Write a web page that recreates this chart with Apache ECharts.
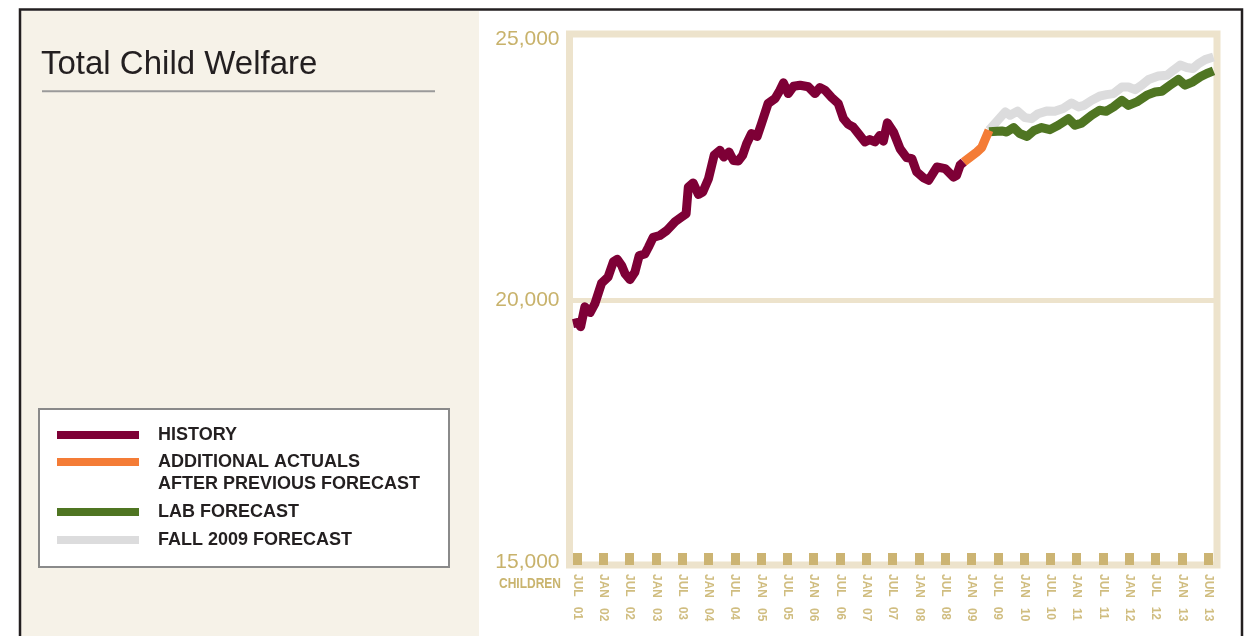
<!DOCTYPE html>
<html>
<head>
<meta charset="utf-8">
<script src="https://cdn.jsdelivr.net/npm/echarts@6/dist/echarts.min.js"></script>
<style>
html,body{margin:0;padding:0;background:#ffffff;}
#chart{width:1255px;height:636px;}
</style>
</head>
<body>
<div id="chart"></div>
<script>
// ---- data (x = months since JUL 01) ----
const histMonths = [-0.9,0.2,0.85,1.8,3.0,4.1,5.6,7.1,8.3,9.2,10.2,11.0,12.1,13.2,14.2,15.5,16.3,17.4,18.9,20.5,22.4,23.9,24.9,25.4,26.5,27.7,28.7,30.0,31.3,32.6,33.5,34.7,35.7,36.8,37.8,38.7,39.8,41.1,42.1,43.6,45.2,46.3,47.1,48.2,49.4,50.9,52.8,54.3,55.4,56.6,58.1,59.6,60.8,61.9,63.0,64.2,65.7,66.8,68.0,69.1,69.9,70.8,72.2,73.7,75.2,76.4,77.5,79.0,80.2,82.1,84.0,85.9,86.6,87.4,88.2];
const histValues = [19560,19580,19500,19880,19770,19940,20330,20450,20740,20790,20670,20510,20400,20540,20860,20890,21020,21210,21245,21340,21510,21600,21660,22170,22250,22030,22075,22330,22780,22875,22745,22840,22680,22670,22780,23000,23195,23140,23385,23770,23865,24025,24165,23960,24100,24120,24090,23960,24075,24025,23885,23770,23480,23370,23320,23195,23035,23080,23035,23160,23050,23400,23225,22905,22735,22715,22460,22350,22300,22555,22525,22360,22395,22590,22650];
const addlMonths = [88.2,91.2,92.3,94.0];
const addlValues = [22650,22840,22925,23260];
const labMonths = [94.0,96.9,98.0,99.6,101.0,102.7,104.3,106.0,107.9,109.8,112.1,113.6,115.1,117.4,119.2,120.7,122.4,124.3,125.8,127.7,130.0,131.9,133.4,135.3,137.2,138.7,140.5,142.2,143.7,145.2];
const labValues = [23230,23245,23225,23310,23195,23140,23255,23310,23270,23355,23480,23355,23395,23545,23640,23620,23705,23830,23735,23800,23930,23990,24005,24120,24230,24120,24185,24280,24345,24395];
const fallMonths = [94.0,97.7,98.8,100.5,102.2,103.7,105.2,107.1,109.0,110.9,112.8,114.4,115.7,117.4,119.2,120.8,122.4,124.3,125.8,127.3,128.8,130.4,132.6,134.6,136.1,137.6,139.1,140.5,141.8,143.3,145.2];
const fallValues = [23260,23610,23545,23625,23500,23480,23575,23625,23620,23675,23780,23705,23735,23830,23910,23940,23960,24085,24085,24035,24120,24230,24295,24310,24410,24505,24460,24440,24535,24610,24660];
const xTickMonths = [0,6,12,18,24,30,36,42,48,54,60,66,72,78,84,90,96,102,108,114,120,126,132,138,144];
const xTickLabels = ['JUL 01','JAN 02','JUL 02','JAN 03','JUL 03','JAN 04','JUL 04','JAN 05','JUL 05','JAN 06','JUL 06','JAN 07','JUL 07','JAN 08','JUL 08','JAN 09','JUL 09','JAN 10','JUL 10','JAN 11','JUL 11','JAN 12','JUL 12','JAN 13','JUN 13'];
const yTickValues = [15000,20000,25000];
const yTickLabels = ['15,000','20,000','25,000'];
const gridLineValue = 20000;

const NAME_HIST = 'HISTORY';
const NAME_ADDL = 'ADDITIONAL ACTUALS AFTER PREVIOUS FORECAST';
const NAME_LAB = 'LAB FORECAST';
const NAME_FALL = 'FALL 2009 FORECAST';

const FONT = '"Liberation Sans", Arial, Helvetica, sans-serif';
const pairs = (xs, ys) => xs.map((x, i) => [x, ys[i]]);

const chart = echarts.init(document.getElementById('chart'), null, {renderer: 'canvas'});

const legendText = {
  fontFamily: FONT, fontSize: 18, fontWeight: 'bold', color: '#231f20',
  lineHeight: 18, padding: [0, 0, 0, 14]
};

function lineSeries(name, xs, ys, color, z) {
  return {
    name: name, type: 'line', data: pairs(xs, ys), color: color,
    showSymbol: false, symbol: 'none', z: z, silent: true,
    lineStyle: {color: color, width: 9, join: 'round', cap: 'butt'}
  };
}

const fall = lineSeries(NAME_FALL, fallMonths, fallValues, '#dcdcdd', 3);
fall.markLine = {
  silent: true, symbol: 'none', z: 1,
  label: {show: false},
  lineStyle: {color: '#ede3cc', width: 5, type: 'solid'},
  data: [{yAxis: gridLineValue}]
};

const option = {
  animation: false,
  backgroundColor: '#ffffff',
  grid: {
    left: 569.5, right: 38, top: 34, bottom: 71,
    show: true, borderColor: '#ede3cc', borderWidth: 7, backgroundColor: '#ffffff'
  },
  xAxis: {
    type: 'value', min: -1.7, max: 146, z: 3,
    axisLine: {show: false},
    splitLine: {show: false},
    axisTick: {show: true, inside: true, length: 12, customValues: xTickMonths,
      lineStyle: {color: '#ccb473', width: 9}},
    axisLabel: {
      customValues: xTickMonths, rotate: -90, margin: 9,
      fontFamily: FONT, fontSize: 12, fontWeight: 'bold', color: '#d0bd80',
      formatter: v => {
        const i = xTickMonths.indexOf(Math.round(v));
        return i >= 0 ? xTickLabels[i].replace(' ', '   ') : '';
      }
    }
  },
  yAxis: {
    type: 'value', min: 14940, max: 25100,
    axisLine: {show: false}, axisTick: {show: false}, splitLine: {show: false},
    axisLabel: {
      customValues: yTickValues, margin: 10,
      fontFamily: FONT, fontSize: 21, color: '#c8b26b',
      formatter: v => {
        const i = yTickValues.indexOf(Math.round(v));
        return i >= 0 ? yTickLabels[i] : '';
      }
    }
  },
  legend: [
    {
      data: [NAME_HIST, NAME_ADDL], orient: 'vertical', left: 57, top: 426,
      itemWidth: 82, itemHeight: 8, itemGap: 9, icon: 'rect', padding: 0,
      selectedMode: false, textStyle: legendText,
      formatter: n => n === NAME_ADDL ? 'ADDITIONAL ACTUALS' : n
    },
    {
      data: [NAME_LAB, NAME_FALL], orient: 'vertical', left: 57, top: 503,
      itemWidth: 82, itemHeight: 8, itemGap: 10, icon: 'rect', padding: 0,
      selectedMode: false, textStyle: legendText
    }
  ],
  graphic: [
    {type: 'rect', z: -10, silent: true,
      shape: {x: 21, y: 11, width: 458, height: 630},
      style: {fill: '#f6f2e8'}},
    {type: 'rect', z: -9, silent: true,
      shape: {x: 20, y: 9.5, width: 1222, height: 700},
      style: {fill: null, stroke: '#231f20', lineWidth: 2.5}},
    {type: 'text', z: 1, silent: true,
      style: {text: 'Total Child Welfare', x: 41, y: 65, verticalAlign: 'middle',
        font: '33px ' + FONT, fill: '#231f20'}},
    {type: 'line', z: 1, silent: true,
      shape: {x1: 42, y1: 91.3, x2: 435, y2: 91.3},
      style: {stroke: '#9a9a9a', lineWidth: 2}},
    {type: 'rect', z: 1, silent: true,
      shape: {x: 39, y: 409, width: 410, height: 158},
      style: {fill: '#ffffff', stroke: '#8a8a8a', lineWidth: 2}},
    {type: 'text', z: 5, silent: true,
      style: {text: 'AFTER PREVIOUS FORECAST', x: 158, y: 484.5, verticalAlign: 'middle',
        font: 'bold 18px ' + FONT, fill: '#231f20'}},
    {type: 'text', z: 5, silent: true, x: 561, y: 584, scaleX: 0.8,
      style: {text: 'CHILDREN', x: 0, y: 0, align: 'right', verticalAlign: 'middle',
        font: 'bold 15px ' + FONT, fill: '#c9b46e'}}
  ],
  series: [
    fall,
    lineSeries(NAME_LAB, labMonths, labValues, '#4f7522', 4),
    lineSeries(NAME_ADDL, addlMonths, addlValues, '#f47c36', 5),
    lineSeries(NAME_HIST, histMonths, histValues, '#7e0036', 6)
  ]
};
chart.setOption(option);
</script>
</body>
</html>
